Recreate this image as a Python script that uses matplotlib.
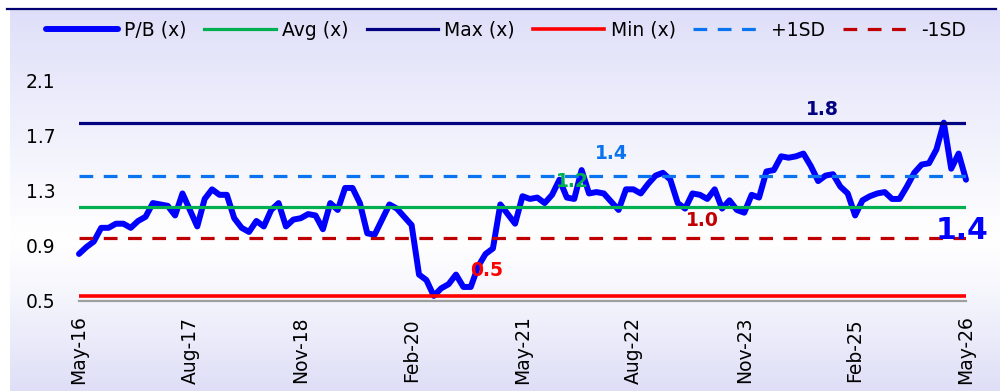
import numpy as np
import pandas as pd
import matplotlib
matplotlib.use("Agg")
import matplotlib.pyplot as plt
from matplotlib.lines import Line2D

plt.rcParams['font.family'] = ['DejaVu Sans']

# ---------------- data ----------------
months = pd.date_range("2016-05-01", "2026-05-01", freq="MS")
categories = [d.strftime("%b-%y") for d in months]

pb_values = [0.84, 0.89, 0.93, 1.03, 1.03, 1.06, 1.06, 1.03, 1.08, 1.11,
             1.21, 1.20, 1.19, 1.12, 1.28, 1.16, 1.04, 1.24, 1.31, 1.27,
             1.27, 1.10, 1.03, 1.00, 1.08, 1.04, 1.16, 1.21, 1.04, 1.09,
             1.10, 1.13, 1.12, 1.02, 1.21, 1.16, 1.32, 1.32, 1.21, 0.99,
             0.98, 1.09, 1.20, 1.17, 1.11, 1.05, 0.69, 0.65, 0.535, 0.59,
             0.62, 0.69, 0.60, 0.60, 0.75, 0.84, 0.88, 1.20, 1.13, 1.06,
             1.26, 1.24, 1.25, 1.21, 1.27, 1.38, 1.25, 1.24, 1.45, 1.28,
             1.29, 1.28, 1.22, 1.16, 1.31, 1.31, 1.28, 1.35, 1.41, 1.43,
             1.38, 1.21, 1.17, 1.28, 1.27, 1.24, 1.31, 1.17, 1.23, 1.16,
             1.14, 1.27, 1.25, 1.44, 1.45, 1.55, 1.54, 1.55, 1.57, 1.48,
             1.37, 1.41, 1.42, 1.33, 1.28, 1.12, 1.23, 1.26, 1.28, 1.29,
             1.24, 1.24, 1.33, 1.43, 1.49, 1.50, 1.60, 1.795, 1.46, 1.57,
             1.38]

avg_value = 1.18
max_value = 1.795
min_value = 0.535
plus_sd_value = 1.41
minus_sd_value = 0.955

tick_step = 15
y_ticks = [0.5, 0.9, 1.3, 1.7, 2.1]

FS = 13.5

# ---------------- figure ----------------
W, H = 1008, 391
fig = plt.figure(figsize=(W / 100, H / 100), dpi=100, facecolor="white")

# gradient background of the chart area
bg = fig.add_axes([10 / W, 0, 990 / W, (H - 10) / H], zorder=-10)
bg.set_axis_off()
ny = 400
t = np.linspace(0, 1, ny)  # 0 = top
top_c = np.array([222, 222, 249]) / 255
mid_c = np.array([255, 255, 255]) / 255
bot_c = np.array([222, 222, 247]) / 255
mid_pos = 0.6
cols = np.zeros((ny, 1, 3))
for k, tv in enumerate(t):
    if tv < mid_pos:
        f = tv / mid_pos
        c = top_c + (mid_c - top_c) * (f ** 0.9)
    else:
        f = (tv - mid_pos) / (1 - mid_pos)
        c = mid_c + (bot_c - mid_c) * (f ** 1.2)
    cols[k, 0] = c
bg.imshow(cols, aspect="auto", extent=[0, 1, 0, 1])
bg.set_xlim(0, 1)
bg.set_ylim(0, 1)

# top rule
fig.add_artist(Line2D([7 / W, 996 / W], [1 - 9 / H, 1 - 9 / H],
                      color="#000070", lw=1.6, transform=fig.transFigure))

# main axes
ax_left, ax_right = 79 / W, 966 / W
ax_bottom = (H - 300.7) / H
ax_top = (H - 80.7) / H
ax = fig.add_axes([ax_left, ax_bottom, ax_right - ax_left, ax_top - ax_bottom])
ax.patch.set_alpha(0)

x = np.arange(len(pb_values))
n = len(pb_values)

ax.plot(x, pb_values, color="#0000FF", lw=4.3, solid_joinstyle="round",
        solid_capstyle="round", zorder=3, clip_on=False)
ax.plot([0, n - 1], [avg_value] * 2, color="#00B050", lw=2.3, zorder=4)
ax.plot([0, n - 1], [max_value] * 2, color="#000080", lw=2.3, zorder=4)
ax.plot([0, n - 1], [min_value] * 2, color="#FF0000", lw=2.6, zorder=4)
ax.plot([0, n - 1], [plus_sd_value] * 2, color="#0A74F0", lw=2.3,
        dashes=(4.3, 3.3), zorder=4)
ax.plot([0, n - 1], [minus_sd_value] * 2, color="#C00000", lw=2.3,
        dashes=(4.3, 3.3), zorder=4)

ax.set_xlim(0, n - 1)
ax.set_ylim(0.5, 2.1)

for s in ["top", "right", "left"]:
    ax.spines[s].set_visible(False)
ax.spines["bottom"].set_color("#A0A0A0")
ax.spines["bottom"].set_linewidth(1.6)
ax.spines["bottom"].set_zorder(2)

ax.set_yticks(y_ticks)
ax.set_yticklabels([f"{v:.1f}" for v in y_ticks])
ax.tick_params(axis="y", length=0, pad=17, labelsize=FS, labelcolor="#000000")

xt = list(range(0, n, tick_step))
ax.set_xticks(xt)
ax.set_xticklabels([categories[i] for i in xt], rotation=90, va="center",
                   ha="center")
ax.tick_params(axis="x", length=0, pad=35.5, labelsize=FS, labelcolor="#000000")

# data labels
ax.text(100.6, 1.887, f"{max_value:.1f}", color="#000080", fontsize=FS,
        fontweight="bold", ha="center", va="center")
ax.text(72, 1.574, f"{plus_sd_value:.1f}", color="#0A74F0", fontsize=FS,
        fontweight="bold", ha="center", va="center")
ax.text(66.8, 1.365, f"{avg_value:.1f}", color="#00B050", fontsize=FS,
        fontweight="bold", ha="center", va="center", zorder=6)
ax.text(84.4, 1.080, f"{minus_sd_value:.1f}", color="#C00000", fontsize=FS,
        fontweight="bold", ha="center", va="center")
ax.text(55.1, 0.723, f"{min_value:.1f}", color="#FF0000", fontsize=FS,
        fontweight="bold", ha="center", va="center")
ax.text(119.4, 1.01, f"{pb_values[-1]:.1f}", color="#0000FF", fontsize=21.5,
        fontweight="bold", ha="center", va="center", zorder=6)

# legend
handles = [
    Line2D([], [], color="#0000FF", lw=4.3, solid_capstyle="round"),
    Line2D([], [], color="#00B050", lw=2.3),
    Line2D([], [], color="#000080", lw=2.3),
    Line2D([], [], color="#FF0000", lw=2.6),
    Line2D([], [], color="#0A74F0", lw=2.3, dashes=(4.3, 3.3)),
    Line2D([], [], color="#C00000", lw=2.3, dashes=(4.3, 3.3)),
]
labels = ["P/B (x)", "Avg (x)", "Max (x)", "Min (x)", "+1SD", "-1SD"]
fig.legend(handles, labels, loc="center", bbox_to_anchor=(506 / W, 1 - 30 / H),
           ncol=6, frameon=False, fontsize=FS, handlelength=3.8,
           handletextpad=0.35, columnspacing=0.95)

fig.savefig("out.png", dpi=100, facecolor=fig.get_facecolor())
